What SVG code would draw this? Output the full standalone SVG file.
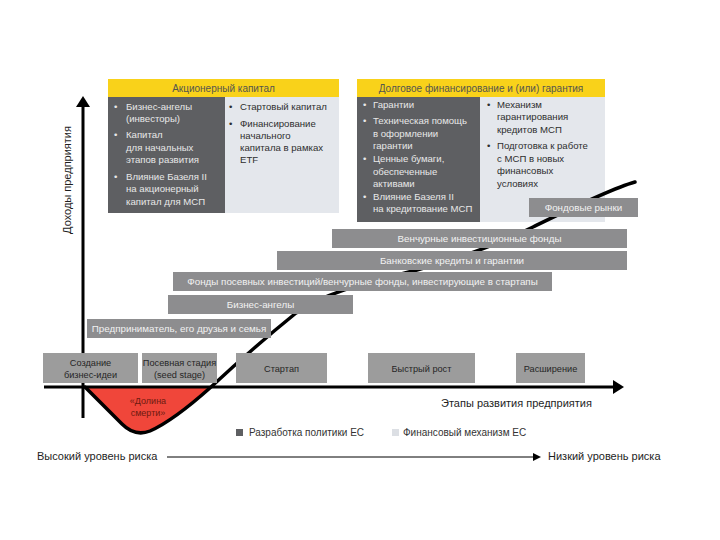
<svg xmlns="http://www.w3.org/2000/svg" width="720" height="540" viewBox="0 0 720 540">
<defs>
<style>
text{font-family:"Liberation Sans",Arial,"DejaVu Sans",sans-serif;}
.hdr{fill:#f9d21a;}
.hdrt{font-size:10px;fill:#55554f;text-anchor:middle;}
.dark{fill:#5e5f62;}
.light{fill:#e4e7ec;}
.dt{font-size:9.6px;fill:#e8e8e8;}
.lt{font-size:9.6px;fill:#2e2e2e;}
.bar{fill:#8d8d8f;}
.bt{font-size:9.8px;fill:#f2f2f2;text-anchor:middle;}
.stage{fill:#9c9c9c;}
.st{font-size:9.2px;fill:#262626;text-anchor:middle;}
.lbl{font-size:11px;fill:#1e1e1e;}
.leg{font-size:10px;fill:#333;}
.axis{stroke:#000;stroke-width:3;fill:none;}
</style>
</defs>
<rect width="720" height="540" fill="#fff"/>

<g id="equity-capital">
<rect class="hdr" x="108" y="79" width="231" height="18"/>
<text class="hdrt" x="223.5" y="91.5">Акционерный капитал</text>
<rect class="dark" x="108" y="97" width="117" height="116"/>
<rect class="light" x="225" y="97" width="114" height="116"/>
<text class="dt" x="114" y="109.5">•</text><text class="dt" x="126" y="109.5">Бизнес-ангелы</text>
<text class="dt" x="126" y="122">(инвесторы)</text>
<text class="dt" x="114" y="138">•</text><text class="dt" x="126" y="138">Капитал</text>
<text class="dt" x="126" y="150.5">для начальных</text>
<text class="dt" x="126" y="163">этапов развития</text>
<text class="dt" x="114" y="179.5">•</text><text class="dt" x="126" y="179.5">Влияние Базеля II</text>
<text class="dt" x="126" y="192">на акционерный</text>
<text class="dt" x="126" y="204.5">капитал для МСП</text>
<text class="lt" x="229" y="109.5">•</text><text class="lt" x="240" y="109.5">Стартовый капитал</text>
<text class="lt" x="229" y="126.5">•</text><text class="lt" x="240" y="126.5">Финансирование</text>
<text class="lt" x="240" y="139">начального</text>
<text class="lt" x="240" y="151">капитала в рамках</text>
<text class="lt" x="240" y="163">ETF</text>
</g>

<g id="debt-financing">
<rect class="hdr" x="357" y="79" width="248" height="18"/>
<text class="hdrt" x="481" y="91.5">Долговое финансирование и (или) гарантия</text>
<rect class="dark" x="357" y="97" width="123" height="125"/>
<rect class="light" x="480" y="97" width="125" height="125"/>
<text class="dt" x="363" y="107.5">•</text><text class="dt" x="373" y="107.5">Гарантии</text>
<text class="dt" x="363" y="123.5">•</text><text class="dt" x="373" y="123.5">Техническая помощь</text>
<text class="dt" x="373" y="136.5">в оформлении</text>
<text class="dt" x="373" y="149">гарантии</text>
<text class="dt" x="363" y="161.5">•</text><text class="dt" x="373" y="161.5">Ценные бумаги,</text>
<text class="dt" x="373" y="174.5">обеспеченные</text>
<text class="dt" x="373" y="186.5">активами</text>
<text class="dt" x="363" y="199.5">•</text><text class="dt" x="373" y="199.5">Влияние Базеля II</text>
<text class="dt" x="373" y="211.5">на кредитование МСП</text>
<text class="lt" x="487" y="107.5">•</text><text class="lt" x="497" y="107.5">Механизм</text>
<text class="lt" x="497" y="120">гарантирования</text>
<text class="lt" x="497" y="132.5">кредитов МСП</text>
<text class="lt" x="487" y="149">•</text><text class="lt" x="497" y="149">Подготовка к работе</text>
<text class="lt" x="497" y="161.5">с МСП в новых</text>
<text class="lt" x="497" y="174">финансовых</text>
<text class="lt" x="497" y="186.5">условиях</text>
</g>

<g id="death-valley">
<path d="M85,387 L122,424 Q135,437 150,431 C168,423 192,404 211,387 Z" fill="#f0463a"/>
<text x="148" y="404" font-size="9" fill="#6e1a10" text-anchor="middle">«Долина</text>
<text x="148" y="416" font-size="9" fill="#6e1a10" text-anchor="middle">смерти»</text>
</g>

<g id="connectors">
<path d="M85,387 L122,424 Q135,437 150,431 C168,423 192,404 211,387 C240,360 270,334 296,313 C326,291 377,280.5 417,270 C457,259.5 493,246.6 533,227 C563,212.3 610,189 635,182" fill="none" stroke="#000" stroke-width="3.5" stroke-linecap="round" stroke-linejoin="round"/>
<line class="axis" x1="83" y1="418" x2="83" y2="104"/>
<polygon points="83,96 76,107 90,107" fill="#000"/>
<line class="axis" x1="44" y1="387" x2="615" y2="387"/>
<polygon points="624,387 613,380 613,394" fill="#000"/>
<line x1="167" y1="457" x2="535" y2="457" stroke="#000" stroke-width="1"/>
<polygon points="541,457 533,453 533,461" fill="#000"/>
</g>

<g id="stage-idea">
<rect class="stage" x="43" y="353" width="95" height="30"/>
<text class="st" x="90.5" y="365.5">Создание</text>
<text class="st" x="90.5" y="377.5">бизнес-идеи</text>
</g>
<g id="stage-seed">
<rect class="stage" x="142" y="353" width="75" height="30"/>
<text class="st" x="179.5" y="365.5">Посевная стадия</text>
<text class="st" x="179.5" y="377.5">(seed stage)</text>
</g>
<g id="stage-startup">
<rect class="stage" x="236" y="353" width="91" height="30"/>
<text class="st" x="281.5" y="371.5">Стартап</text>
</g>
<g id="stage-growth">
<rect class="stage" x="368" y="353" width="107" height="30"/>
<text class="st" x="421.5" y="371.5">Быстрый рост</text>
</g>
<g id="stage-expansion">
<rect class="stage" x="516" y="353" width="69" height="30"/>
<text class="st" x="550.5" y="371.5">Расширение</text>
</g>

<g id="bar-stock-markets">
<rect class="bar" x="529" y="198" width="109" height="19"/>
<text class="bt" x="583.5" y="211">Фондовые рынки</text>
</g>
<g id="bar-venture-funds">
<rect class="bar" x="332" y="229" width="295" height="19"/>
<text class="bt" x="479.5" y="242">Венчурные инвестиционные фонды</text>
</g>
<g id="bar-bank-credit">
<rect class="bar" x="277" y="251" width="350" height="19"/>
<text class="bt" x="452" y="264">Банковские кредиты и гарантии</text>
</g>
<g id="bar-seed-funds">
<rect class="bar" x="173" y="272" width="379" height="19"/>
<text class="bt" x="362.5" y="285">Фонды посевных инвестиций/венчурные фонды, инвестирующие в стартапы</text>
</g>
<g id="bar-angels">
<rect class="bar" x="168" y="295" width="185" height="19"/>
<text class="bt" x="260.5" y="308">Бизнес-ангелы</text>
</g>
<g id="bar-entrepreneur">
<rect class="bar" x="87" y="319" width="184" height="19"/>
<text class="bt" x="179" y="332">Предприниматель, его друзья и семья</text>
</g>

<g id="labels">
<text class="lbl" transform="translate(71,180) rotate(-90)" text-anchor="middle">Доходы предприятия</text>
<text class="lbl" x="516.5" y="407" text-anchor="middle">Этапы развития предприятия</text>
<text class="lbl" x="37" y="460">Высокий уровень риска</text>
<text class="lbl" x="548" y="460">Низкий уровень риска</text>
</g>

<g id="legend">
<rect x="236" y="429" width="7" height="7" fill="#5e5f62"/>
<text class="leg" x="249" y="436">Разработка политики ЕС</text>
<rect x="392" y="429" width="7" height="7" fill="#dcdfe4"/>
<text class="leg" x="403" y="436">Финансовый механизм ЕС</text>
</g>
</svg>
